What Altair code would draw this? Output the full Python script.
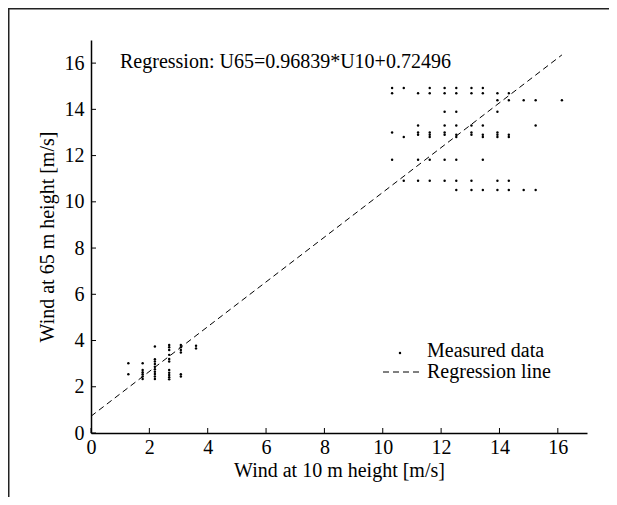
import altair as alt
import pandas as pd

# ---------------- data ----------------
upper_rows_y = [14.92, 14.70, 14.39, 13.90, 13.30, 13.00, 12.90, 12.80, 11.82, 10.91, 10.51]
upper_rows_x = [
    [10.32, 10.72, 11.61, 12.12, 12.52, 13.04, 13.43],
    [10.32, 11.21, 11.61, 12.12, 12.52, 13.04, 13.43, 13.93, 14.32],
    [13.93, 14.32, 14.83, 15.24, 16.14],
    [12.12, 12.52, 13.93],
    [11.21, 12.12, 12.52, 13.04, 13.43, 15.24],
    [10.32, 11.21, 11.61, 12.12, 13.04, 13.93],
    [11.21, 11.61, 12.12, 12.52, 13.04, 13.43, 13.93, 14.32],
    [10.72, 11.61, 12.52, 13.43, 13.93, 14.32],
    [10.32, 11.21, 11.61, 12.12, 12.52, 13.43],
    [10.72, 11.21, 11.61, 12.12, 12.52, 13.04, 13.93, 14.32],
    [12.52, 13.04, 13.43, 13.93, 14.32, 14.83, 15.24],
]
lower_cols_x = [1.28, 1.77, 2.19, 2.68, 3.08, 3.60]
lower_cols_y = [
    [3.02, 2.54],
    [3.02, 2.73, 2.63, 2.54, 2.44, 2.34],
    [3.74, 3.19, 3.09, 2.99, 2.87, 2.76, 2.65, 2.55, 2.44, 2.34],
    [3.81, 3.71, 3.59, 3.38, 3.20, 3.09, 2.73, 2.61, 2.51, 2.41, 2.32],
    [3.81, 3.71, 3.59, 3.48, 2.54, 2.44],
    [3.77, 3.66],
]

slope = 0.96839
intercept = 0.72496
reg_x = [0.0, 16.14]

x_ticks = [0, 2, 4, 6, 8, 10, 12, 14, 16]
y_ticks = [0, 2, 4, 6, 8, 10, 12, 14, 16]

x_title = "Wind at 10 m height [m/s]"
y_title = "Wind at 65 m height [m/s]"
annotation = "Regression: U65=0.96839*U10+0.72496"
legend_labels = ["Measured data", "Regression line"]

# ---------------- tables ----------------
px, py = [], []
for yy, row in zip(upper_rows_y, upper_rows_x):
    for xx in row:
        px.append(xx)
        py.append(yy)
for xx, col in zip(lower_cols_x, lower_cols_y):
    for yy in col:
        px.append(xx)
        py.append(yy)
pts = pd.DataFrame({"x": px, "y": py})
reg = pd.DataFrame({"x": reg_x, "y": [slope * v + intercept for v in reg_x]})
xt = pd.DataFrame({"x": x_ticks})
yt = pd.DataFrame({"y": y_ticks})

W, H = 496, 393
FONT = "Liberation Serif"
FS = 20

xs = alt.Scale(domain=[0, 17], nice=False, zero=False)
ys = alt.Scale(domain=[0, 17], nice=False, zero=False)

x_axis = alt.Axis(values=x_ticks, title=x_title, ticks=False, grid=False,
                  domainColor="black", domainWidth=1.5,
                  labelFont=FONT, labelFontSize=FS, labelColor="black", labelPadding=4,
                  labelFlush=False, labelOverlap=False,
                  titleFont=FONT, titleFontSize=FS, titleFontWeight="normal", titleColor="black",
                  titleX=W / 2, titleY=37, titleBaseline="middle", titleAlign="center")
y_axis = alt.Axis(values=y_ticks, title=y_title, ticks=False, grid=False,
                  domainColor="black", domainWidth=1.5,
                  labelFont=FONT, labelFontSize=FS, labelColor="black", labelPadding=7,
                  labelFlush=False, labelOverlap=False,
                  titleFont=FONT, titleFontSize=FS, titleFontWeight="normal", titleColor="black",
                  titleX=-44, titleY=H / 2, titleAngle=-90, titleBaseline="middle", titleAlign="center")

X = lambda: alt.X("x:Q", scale=xs, axis=x_axis)
Y = lambda: alt.Y("y:Q", scale=ys, axis=y_axis)

points = alt.Chart(pts).mark_point(filled=True, shape="circle", size=6, color="black", opacity=1).encode(
    x=X(), y=Y())

line = alt.Chart(reg).mark_line(color="black", strokeWidth=1, strokeDash=[6, 4]).encode(x=X(), y=Y())

xtick = alt.Chart(xt).mark_rule(color="black", strokeWidth=1).encode(
    x=X(), y=alt.value(H), y2=alt.value(H - 5))
ytick = alt.Chart(yt).mark_rule(color="black", strokeWidth=1).encode(
    y=Y(), x=alt.value(0), x2=alt.value(5))

ann = alt.Chart(pd.DataFrame({"t": [annotation]})).mark_text(
    align="left", baseline="middle", font=FONT, fontSize=FS, color="black").encode(
    text="t:N", x=alt.value(29), y=alt.value(22))

leg_dot = alt.Chart(pd.DataFrame({"a": [0]})).mark_point(
    filled=True, shape="circle", size=6, color="black", opacity=1).encode(
    x=alt.value(309), y=alt.value(313))
leg_dash = alt.Chart(pd.DataFrame({"a": [0]})).mark_rule(
    color="black", strokeWidth=1, strokeDash=[6, 4]).encode(
    x=alt.value(292), x2=alt.value(328), y=alt.value(332), y2=alt.value(332))
leg_txt = alt.Chart(pd.DataFrame({"t": legend_labels, "yy": [311, 332]})).mark_text(
    align="left", baseline="middle", font=FONT, fontSize=FS, color="black").encode(
    text="t:N", x=alt.value(336), y=alt.Y("yy:Q", scale=None, axis=None))

frame_top = alt.Chart(pd.DataFrame({"a": [0]})).mark_rect(color="#222", strokeWidth=0).encode(
    x=alt.value(-83), x2=alt.value(W + 22), y=alt.value(-32), y2=alt.value(-30.5))
frame_left = alt.Chart(pd.DataFrame({"a": [0]})).mark_rect(color="#222", strokeWidth=0).encode(
    x=alt.value(-83), x2=alt.value(-81.5), y=alt.value(-32), y2=alt.value(H + 64))

chart = alt.layer(frame_top, frame_left, line, points, xtick, ytick, ann, leg_dot, leg_dash, leg_txt).properties(
    width=W, height=H,
    autosize=alt.AutoSizeParams(type="none"),
    padding={"left": 83, "top": 32, "right": 22, "bottom": 64},
    background="white",
).configure_view(stroke=None)

chart.save("out.html", embed_options={"renderer": "svg", "actions": False})
